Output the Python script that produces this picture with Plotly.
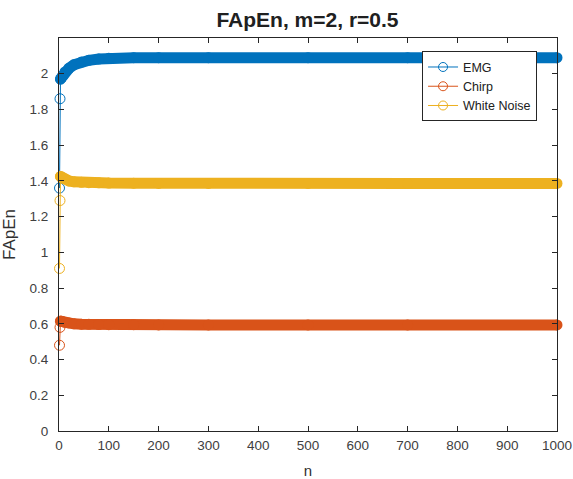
import plotly.graph_objects as go

# ---- data ----
n_vals = [1, 2, 3, 5, 8, 12, 20, 30, 45, 60, 80, 100, 150, 200, 300, 500, 700, 1000]
emg = [1.36, 1.86, 1.97, 1.98, 1.99, 2.01, 2.03, 2.05, 2.065, 2.075, 2.082, 2.086, 2.09, 2.09, 2.09, 2.09, 2.09, 2.09]
chirp = [0.48, 0.58, 0.615, 0.615, 0.612, 0.608, 0.604, 0.600, 0.598, 0.597, 0.596, 0.595, 0.595, 0.594, 0.594, 0.594, 0.594, 0.594]
white_noise = [0.91, 1.29, 1.425, 1.42, 1.415, 1.41, 1.40, 1.395, 1.392, 1.39, 1.389, 1.388, 1.387, 1.386, 1.386, 1.386, 1.386, 1.386]

series_names = ["EMG", "Chirp", "White Noise"]
series_values = [emg, chirp, white_noise]
colors = ["#0072BD", "#D95319", "#EDB120"]

x_ticks = list(range(0, 1001, 100))
y_ticks = [round(0.2 * i, 1) for i in range(11)]

FONT = "Liberation Sans, Arial, sans-serif"

fig = go.Figure()

for name, vals, c in zip(series_names, series_values, colors):
    # dense band of overlapping markers -> thick line
    fig.add_trace(go.Scatter(
        x=n_vals[2:], y=vals[2:], mode="lines+markers",
        line=dict(color=c, width=11),
        marker=dict(symbol="circle", size=11, color=c),
        cliponaxis=False, showlegend=False, hoverinfo="skip"))
    # first points: thin line with open circles
    fig.add_trace(go.Scatter(
        x=n_vals[:3], y=vals[:3], mode="lines+markers",
        line=dict(color=c, width=1),
        marker=dict(symbol="circle-open", size=10, color=c, line=dict(width=1)),
        cliponaxis=False, showlegend=False))

for name, c in zip(series_names, colors):
    fig.add_trace(go.Scatter(
        x=[None], y=[None], mode="lines+markers", name=name,
        line=dict(color=c, width=1),
        marker=dict(symbol="circle-open", size=9, color=c, line=dict(width=1))))

axis_common = dict(
    showgrid=False, zeroline=False, showline=True, linecolor="#262626", linewidth=1,
    mirror="ticks", ticks="inside", ticklen=5, tickcolor="#262626",
    tickfont=dict(family=FONT, size=13.5, color="#404040"),
    automargin=False, ticklabeloverflow="allow",
)

fig.update_layout(
    width=573, height=479,
    margin=dict(l=59, r=16, t=38, b=48),
    paper_bgcolor="white", plot_bgcolor="white",
    title=dict(text="<b>FApEn, m=2, r=0.5</b>", x=0.499, xref="paper", xanchor="center",
               y=0.960, yref="container", yanchor="middle",
               font=dict(family=FONT, size=21, color="#202020")),
    xaxis=dict(range=[0, 1000], tickvals=x_ticks, ticklabelstandoff=2,
               title=dict(text="n", standoff=18,
                          font=dict(family=FONT, size=15, color="#303030")),
               **axis_common),
    yaxis=dict(range=[0, 2.2], tickvals=y_ticks, ticklabelstandoff=7,
               title=dict(text="FApEn", standoff=20,
                          font=dict(family=FONT, size=17, color="#303030")),
               **axis_common),
    legend=dict(x=0.729, y=0.966, xanchor="left", yanchor="top",
                bgcolor="white", bordercolor="#262626", borderwidth=1,
                font=dict(family=FONT, size=12.5, color="#202020"),
                tracegroupgap=0, itemwidth=30),
    showlegend=True,
)

# remove the default 8px page margin so the figure fills the window exactly
fig.write_html("out.html", config={"displayModeBar": False},
               post_script="document.body.style.margin='0';")
